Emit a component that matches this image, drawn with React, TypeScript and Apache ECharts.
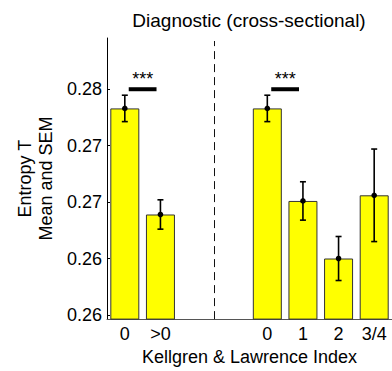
import React, { useEffect, useRef } from "react";
import * as echarts from "echarts";

const CATEGORIES = ["0", ">0", "", "", "0", "1", "2", "3/4"];
const MEANS: (number | null)[] = [0.2783, 0.2689, null, null, 0.2783, 0.2701, 0.265, 0.2706];
const SEMS: (number | null)[] = [0.00117, 0.0013, null, null, 0.00117, 0.0017, 0.00195, 0.0041];
const TICK_VALUES = [0.26, 0.265, 0.27, 0.275, 0.28];
const TICK_LABELS = ["0.26", "0.26", "0.27", "0.27", "0.28"];
const Y_MIN = 0.25963;
const Y_MAX = 0.28454;
const SIG_PAIRS = [[0, 1], [4, 5]];
const SIG_LEVEL = 0.28;
const SIG_TEXT = "***";
const DIVIDER_AT = 2.5;
const TITLE = "Diagnostic (cross-sectional)";
const X_NAME = "Kellgren & Lawrence Index";
const Y_NAME = "Entropy T\nMean and SEM";

const FONT = "'Liberation Sans', Arial, sans-serif";

export default function App() {
  const ref = useRef<HTMLDivElement>(null);
  useEffect(() => {
    if (!ref.current) return;
    const chart = echarts.init(ref.current, null, { renderer: "svg" });
    const errData: number[][] = [];
    MEANS.forEach((m, i) => {
      const s = SEMS[i];
      if (m != null && s != null) errData.push([i, m, m - s, m + s]);
    });
    const sigData = SIG_PAIRS.map(([a, b]) => [(a + b) / 2, SIG_LEVEL]);
    chart.setOption({
      animation: false,
      textStyle: { fontFamily: FONT },
      graphic: [
        {
          type: "text",
          x: 249,
          y: 20,
          style: {
            text: TITLE,
            fontSize: 19,
            fontFamily: FONT,
            fill: "#000",
            textAlign: "center",
            textVerticalAlign: "middle",
          },
        },
      ],
      grid: { left: 107, top: 38, width: 288.5, height: 289 },
      xAxis: [
        {
          type: "category",
          data: CATEGORIES,
          axisLine: { show: true, onZero: false, lineStyle: { color: "#555", width: 1 } },
          axisTick: { show: false },
          axisLabel: { fontSize: 18, color: "#000", margin: 6, fontFamily: FONT, interval: 0 },
          name: X_NAME,
          nameLocation: "middle",
          nameGap: 26,
          nameTextStyle: { fontSize: 18, color: "#000", fontFamily: FONT },
          splitLine: { show: false },
        },
        {
          type: "value",
          min: -0.5,
          max: 7.5,
          show: false,
          axisLine: { onZero: false },
        },
      ],
      yAxis: {
        type: "value",
        min: Y_MIN,
        max: Y_MAX,
        axisLine: { show: true, onZero: false, lineStyle: { color: "#000", width: 1 } },
        axisTick: { show: true, inside: true, length: 3, customValues: TICK_VALUES, lineStyle: { color: "#000" } },
        axisLabel: {
          customValues: TICK_VALUES,
          fontSize: 18,
          color: "#000",
          margin: 5,
          fontFamily: FONT,
          formatter: (v: number) => {
            let best = 0;
            TICK_VALUES.forEach((t, i) => {
              if (Math.abs(t - v) < Math.abs(TICK_VALUES[best] - v)) best = i;
            });
            return TICK_LABELS[best];
          },
        },
        splitLine: { show: false },
        name: Y_NAME,
        nameLocation: "middle",
        nameGap: 48,
        nameTextStyle: { fontSize: 18, color: "#000", fontFamily: FONT, lineHeight: 21 },
      },
      series: [
        {
          type: "bar",
          data: MEANS.map((m) => (m == null ? "-" : m)),
          barWidth: 29,
          itemStyle: { color: "#ffff00", borderColor: "#333", borderWidth: 1 },
          clip: true,
          silent: true,
          z: 2,
        },
        {
          type: "custom",
          xAxisIndex: 1,
          yAxisIndex: 0,
          data: errData,
          encode: { x: 0, y: [1, 2, 3] },
          silent: true,
          z: 10,
          renderItem: (params: any, api: any) => {
            const i = api.value(0);
            const m = api.value(1);
            const lo = api.value(2);
            const hi = api.value(3);
            const top = api.coord([i, hi]);
            const bot = api.coord([i, lo]);
            const c = api.coord([i, m]);
            const cap = 3;
            const st = { stroke: "#000", lineWidth: 1.6 };
            return {
              type: "group",
              children: [
                { type: "line", shape: { x1: c[0], y1: top[1], x2: c[0], y2: bot[1] }, style: st },
                { type: "line", shape: { x1: c[0] - cap, y1: top[1], x2: c[0] + cap, y2: top[1] }, style: st },
                { type: "line", shape: { x1: c[0] - cap, y1: bot[1], x2: c[0] + cap, y2: bot[1] }, style: st },
                { type: "circle", shape: { cx: c[0], cy: c[1], r: 2.8 }, style: { fill: "#000" } },
              ],
            };
          },
        },
        {
          type: "custom",
          xAxisIndex: 1,
          yAxisIndex: 0,
          data: sigData,
          encode: { x: 0, y: 1 },
          silent: true,
          z: 10,
          renderItem: (params: any, api: any) => {
            const x = api.value(0);
            const y = api.value(1);
            const l = api.coord([x - 0.39, y]);
            const r = api.coord([x + 0.39, y]);
            return {
              type: "group",
              children: [
                { type: "rect", shape: { x: l[0], y: l[1] - 2, width: r[0] - l[0], height: 4 }, style: { fill: "#000" } },
                {
                  type: "text",
                  x: (l[0] + r[0]) / 2,
                  y: l[1] - 10,
                  style: {
                    text: SIG_TEXT,
                    fontSize: 18,
                    fontFamily: FONT,
                    fill: "#000",
                    textAlign: "center",
                    textVerticalAlign: "middle",
                  },
                },
              ],
            };
          },
        },
        {
          type: "custom",
          xAxisIndex: 1,
          yAxisIndex: 0,
          data: [[DIVIDER_AT, Y_MIN]],
          encode: { x: 0, y: 1 },
          silent: true,
          z: 10,
          renderItem: (params: any, api: any) => {
            const x = api.value(0);
            const b = api.coord([x, Y_MIN]);
            const t = api.coord([x, Y_MAX]);
            const xx = Math.round(b[0]) + 0.5;
            return {
              type: "line",
              shape: { x1: xx, y1: b[1], x2: xx, y2: t[1] + 3 },
              style: { stroke: "#111", lineWidth: 1, lineDash: [8, 5] },
            };
          },
        },
      ],
    });
    return () => chart.dispose();
  }, []);
  return (
    <div
      ref={ref}
      style={{ position: "absolute", left: 0, top: 0, width: 392, height: 371 }}
    />
  );
}
